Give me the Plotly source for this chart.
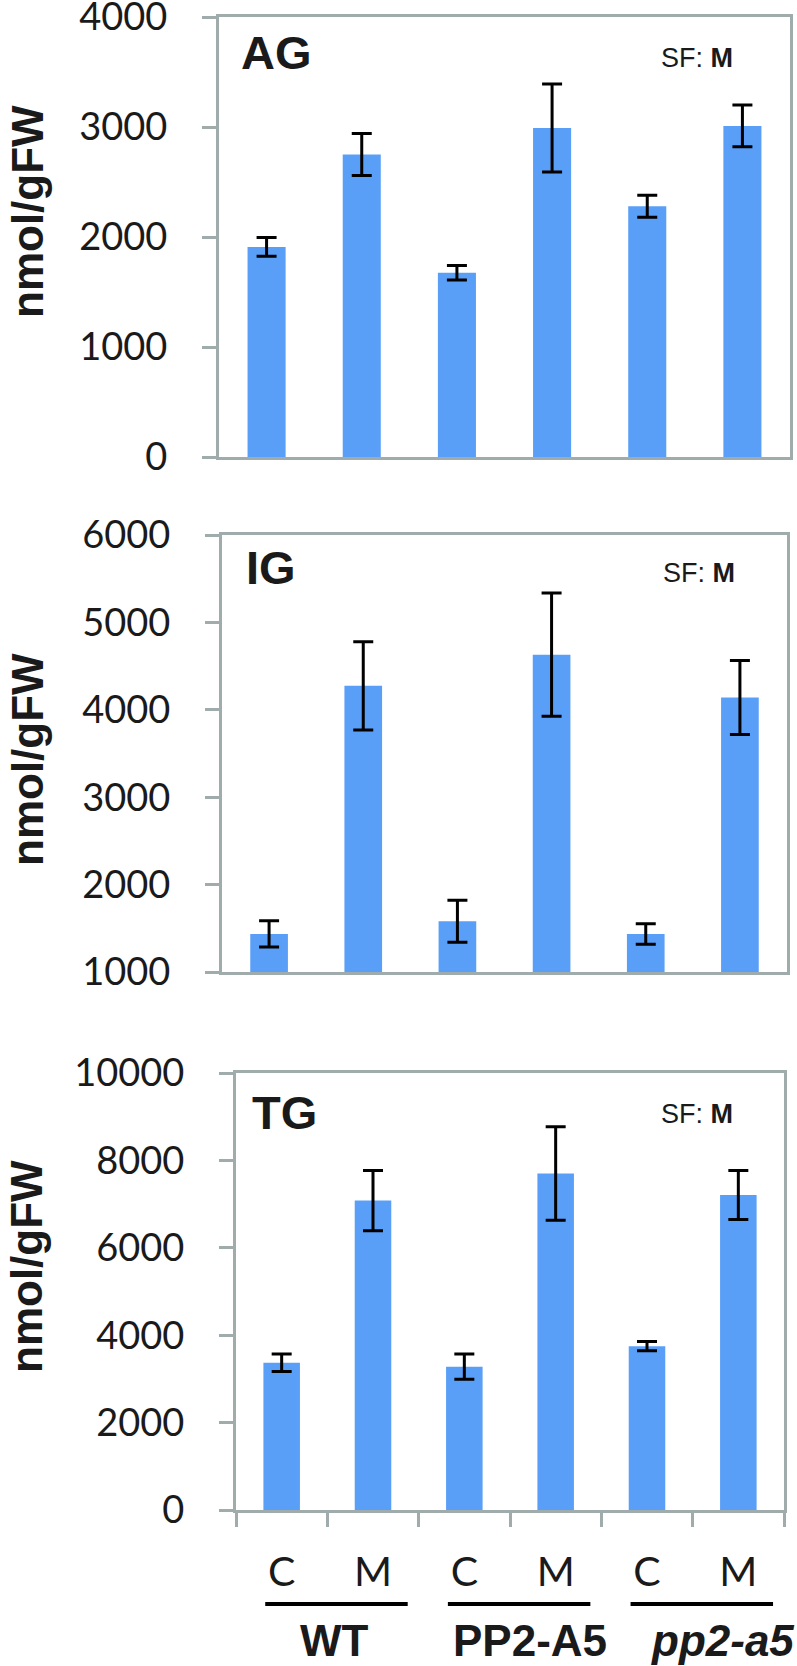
import plotly.graph_objects as go

# ---------------- data ----------------
genotypes = ["WT", "PP2-A5", "<i>pp2-a5</i>"]
sample_labels = ["C", "M", "C", "M", "C", "M"]
sample_index = [0, 1, 2, 3, 4, 5]

ag_mean = [1910, 2750, 1675, 2990, 2280, 3010]
ag_err = [85, 190, 65, 400, 100, 190]
ig_mean = [1435, 4275, 1580, 4630, 1435, 4140]
ig_err = [150, 505, 240, 705, 118, 423]
tg_mean = [3370, 7080, 3280, 7700, 3750, 7210]
tg_err = [200, 690, 290, 1070, 105, 560]

panel_names = ["AG", "IG", "TG"]
y_ranges = [[0, 4000], [1000, 6000], [0, 10000]]
y_dticks = [1000, 1000, 2000]
y_title = "nmol/gFW"
sf_text = "SF: <b>M</b>"

# ---------------- layout (pixels) ----------------
W, H = 797, 1666
boxes = [  # left, right, top, bottom
    (219, 790, 17, 457),
    (222, 787, 535, 972),
    (236, 784, 1073, 1510),
]
title_pos = [(239, 53), (244, 567), (250, 1112)]
sf_pos = [(659, 58), (661, 573), (659, 1114)]
ytitle_pos = [(27, 212), (27, 760), (26, 1267)]

BAR = "#5A9FF7"
AXC = "#A0ABAB"
TXT = "#1a1a1a"
TICKFONT = dict(family="Lato, Open Sans, sans-serif", size=38, color=TXT)
ARIAL = "Liberation Sans, Arial, sans-serif"

def fx(p):
    return p / W

def fy(p):
    return 1 - p / H

means = [ag_mean, ig_mean, tg_mean]
errs = [ag_err, ig_err, tg_err]

fig = go.Figure()
layout = dict(
    width=W, height=H, margin=dict(l=0, r=0, t=0, b=0, pad=0, autoexpand=False),
    paper_bgcolor="white", plot_bgcolor="white",
    showlegend=False, bargap=0.6,
    annotations=[], shapes=[],
)

for k in range(3):
    xa = "x" if k == 0 else f"x{k+1}"
    ya = "y" if k == 0 else f"y{k+1}"
    fig.add_trace(go.Bar(
        x=sample_index, y=means[k], xaxis=xa, yaxis=ya,
        marker=dict(color=BAR, line=dict(width=0)),
        error_y=dict(type="data", array=errs[k], color="black",
                     thickness=3, width=10),
    ))
    l, r, t, b = boxes[k]
    xkey = "xaxis" if k == 0 else f"xaxis{k+1}"
    ykey = "yaxis" if k == 0 else f"yaxis{k+1}"
    xaxis = dict(
        domain=[fx(l), fx(r)], anchor=ya, range=[-0.5, 5.5], automargin=False,
        showline=True, linecolor=AXC, linewidth=3, mirror=True,
        showgrid=False, zeroline=False, fixedrange=True,
    )
    if k == 2:
        xaxis.update(
            tickmode="array", tickvals=sample_index, ticktext=sample_labels,
            ticks="outside", ticklen=0, tickcolor=AXC, ticklabeloverflow="allow",
            tickfont=dict(family="Lato, Open Sans, sans-serif", size=41, color=TXT),
            ticklabelstandoff=24,
            minor=dict(tickmode="array",
                       tickvals=[i - 0.5 for i in sample_index] + [sample_index[-1] + 0.5],
                       ticks="outside", ticklen=14, tickwidth=3, tickcolor=AXC,
                       showgrid=False),
        )
    else:
        xaxis.update(showticklabels=False, ticks="")
    layout[xkey] = xaxis
    layout[ykey] = dict(
        domain=[fy(b), fy(t)], anchor=xa, range=y_ranges[k], dtick=y_dticks[k],
        tickformat="d", automargin=False, ticklabeloverflow="allow",
        showline=True, linecolor=AXC, linewidth=3, mirror=True,
        ticks="outside", ticklen=14, tickwidth=3, tickcolor=AXC,
        tickfont=TICKFONT, ticklabelstandoff=27,
        showgrid=False, zeroline=False, fixedrange=True,
    )
    tx, ty = title_pos[k]
    layout["annotations"].append(dict(
        text=f"<b>{panel_names[k]}</b>", xref="paper", yref="paper",
        x=fx(tx), y=fy(ty), xanchor="left", yanchor="middle", showarrow=False,
        font=dict(family=ARIAL, size=47, color=TXT),
    ))
    sx, sy = sf_pos[k]
    layout["annotations"].append(dict(
        text=sf_text, xref="paper", yref="paper",
        x=fx(sx), y=fy(sy), xanchor="left", yanchor="middle", showarrow=False,
        font=dict(family=ARIAL, size=27, color=TXT),
    ))
    yx, yy = ytitle_pos[k]
    layout["annotations"].append(dict(
        text=f"<b>{y_title}</b>", xref="paper", yref="paper", textangle=-90,
        x=fx(yx), y=fy(yy), xanchor="center", yanchor="middle", showarrow=False,
        font=dict(family=ARIAL, size=44, color=TXT),
    ))

# genotype group underlines and labels (bottom panel)
group_label_shift = [0.08, 0.22, 0.33]
line_y = 1604
label_y = 1640
for g, name in enumerate(genotypes):
    c = (sample_index[2 * g] + sample_index[2 * g + 1]) / 2
    layout["shapes"].append(dict(
        type="line", xref="x3", yref="paper",
        x0=c - 0.68, x1=c + 0.88, y0=fy(line_y), y1=fy(line_y),
        line=dict(color="black", width=4),
    ))
    layout["annotations"].append(dict(
        text=f"<b>{name}</b>", xref="x3", yref="paper",
        x=c + group_label_shift[g], y=fy(label_y), xanchor="center", yanchor="middle",
        showarrow=False, font=dict(family=ARIAL, size=44, color=TXT),
    ))

fig.update_layout(**layout)
fig.write_html(
    "out.html",
    config={"displayModeBar": False},
    post_script="document.body.style.margin='0px';document.body.style.overflow='hidden';",
)
